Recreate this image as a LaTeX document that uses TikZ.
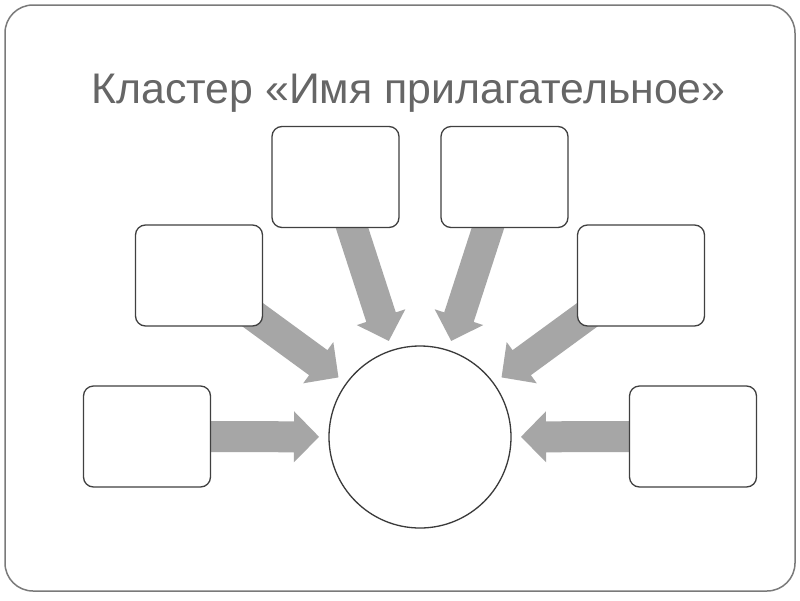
\documentclass[tikz,border=0pt]{standalone}
\usepackage{fontspec}
\setmainfont{Liberation Sans}
\usetikzlibrary{calc,backgrounds}
\definecolor{framegray}{HTML}{7A7A7A}
\definecolor{boxline}{HTML}{404040}
\definecolor{arrowgray}{HTML}{A6A6A6}
\definecolor{titlegray}{HTML}{666666}
\newcommand\blockarrow[2]{%
  \coordinate (hh) at ($(#2)!25pt!(#1)$);
  \fill[arrowgray]
    ($(#1)!15.5pt!90:(#2)$) --
    ($(hh)!15.5pt!90:(#2)$) --
    ($(hh)!25.5pt!90:(#2)$) --
    (#2) --
    ($(hh)!25.5pt!-90:(#2)$) --
    ($(hh)!15.5pt!-90:(#2)$) --
    ($(#1)!15.5pt!-90:(#2)$) -- cycle;}
\begin{document}
\begin{tikzpicture}[x=1pt,y=-1pt,
  cellbox/.style={draw=boxline,line width=1.3pt,fill=white,rounded corners=10pt,
    minimum width=127pt,minimum height=101pt,inner sep=0pt},
  hub/.style={circle,draw=boxline!90!black,line width=1.3pt,fill=white,
    minimum size=182pt,inner sep=0pt}]
\useasboundingbox (0,0) rectangle (800,600);
\draw[framegray,line width=1.5pt,rounded corners=28pt] (5,5) rectangle (795,591);
\node[anchor=base,text=titlegray,font=\fontsize{42.8}{50}\selectfont] (title) at (408.5,103) {Кластер «Имя прилагательное»};
\node[hub] (c) at (420,437) {};
\node[cellbox] (b1) at (147,436.5) {};
\node[cellbox] (b2) at (199,275.5) {};
\node[cellbox] (b3) at (335.5,177) {};
\node[cellbox] (b4) at (504.5,177) {};
\node[cellbox] (b5) at (641,275.5) {};
\node[cellbox] (b6) at (693,436.5) {};
\foreach \i in {1,...,6}{\coordinate (t\i) at ($(c.center)!101pt!(b\i.center)$);}
\begin{scope}[on background layer]
\fill[white] (0,0) rectangle (800,600);
\foreach \i in {1,...,6}{\blockarrow{b\i.center}{t\i}}
\end{scope}
\end{tikzpicture}
\end{document}
